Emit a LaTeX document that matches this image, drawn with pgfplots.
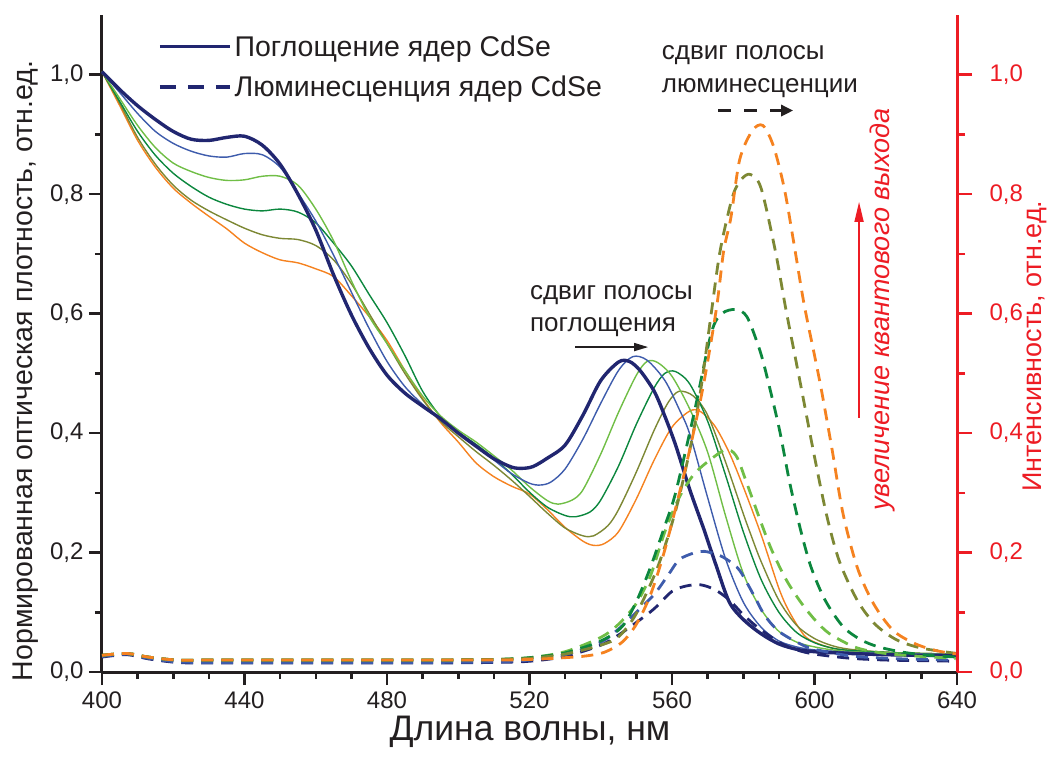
\documentclass[border=0pt]{standalone}
\usepackage{fontspec}
\setmainfont{Liberation Sans}
\usepackage{pgfplots}
\pgfplotsset{compat=1.18}
\usetikzlibrary{arrows.meta}

\definecolor{cnavy}{RGB}{33,38,112}
\definecolor{croyal}{RGB}{62,92,172}
\definecolor{clgreen}{RGB}{112,190,70}
\definecolor{cdgreen}{RGB}{12,135,62}
\definecolor{colive}{RGB}{125,136,52}
\definecolor{corange}{RGB}{245,130,32}
\definecolor{cred}{RGB}{237,28,36}
\definecolor{ctext}{RGB}{35,31,32}

\pgfplotsset{
  absthin/.style={line width=1.4pt, smooth, no markers},
  lum/.style={line width=2.8pt, dash pattern=on 12pt off 8pt, smooth, no markers},
  ynum/.style={/pgf/number format/fixed, /pgf/number format/fixed zerofill,
    /pgf/number format/precision=1, /pgf/number format/use comma},
}

\begin{document}
\begin{tikzpicture}
\begin{axis}[
  name=main,
  scale only axis, width=855pt, height=657pt,
  xmin=400, xmax=640, ymin=0, ymax=1.1,
  axis x line*=bottom, axis y line*=left,
  x axis line style={-, line width=3pt, ctext},
  y axis line style={-, line width=3pt, ctext},
  xtick={400,440,480,520,560,600,640}, minor x tick num=3,
  ytick={0,0.2,0.4,0.6,0.8,1.0}, minor y tick num=1,
  tick align=outside, major tick length=13pt, minor tick length=7pt,
  every tick/.style={line width=2.5pt, ctext},
  /pgf/number format/assume math mode=true,
  tick label style={font=\fontsize{24}{28}\selectfont, ctext},
  xticklabel style={yshift=-6pt, inner ysep=1pt},
  yticklabel style={ynum, xshift=-2pt},
  xlabel={Длина волны, нм},
  xlabel style={font=\fontsize{35.5}{42}\selectfont, ctext, inner ysep=1pt, at={(axis description cs:0.5006,-0.0905)}, anchor=center},
  ylabel={Нормированная оптическая плотность, отн.ед.},
  ylabel style={font=\fontsize{28.5}{34}\selectfont, ctext, at={(axis description cs:-0.0889,0.458)}, anchor=center},
  legend image code/.code={\draw[#1] (0pt,0pt) -- (70pt,0pt);},
  legend style={draw=none, fill=none, at={(axis description cs:0.0655,0.9685)}, anchor=north west,
    font=\fontsize{28.5}{34}\selectfont, text=ctext, row sep=18pt, inner sep=0pt,
    nodes={inner xsep=3pt, inner ysep=0pt}},
  legend cell align=left,
  clip=false,
]
\addlegendimage{cnavy, line width=3pt}
\addlegendentry{Поглощение ядер CdSe}
\addlegendimage{cnavy, line width=3.4pt, dash pattern=on 16pt off 12pt}
\addlegendentry{Люминесценция ядер CdSe}

% поглощение
\addplot[absthin, corange] coordinates {
(400,1.005)(405,0.948)(410,0.890)(415,0.845)(420,0.810)(425,0.785)(430,0.763)(435,0.742)
(440,0.718)(445,0.702)(450,0.690)(455,0.685)(460,0.675)(465,0.662)(470,0.630)(475,0.595)
(480,0.555)(485,0.505)(490,0.458)(495,0.418)(500,0.385)(505,0.350)(510,0.327)(515,0.311)
(520,0.298)(525,0.272)(530,0.242)(535,0.219)(538,0.212)(541,0.215)(545,0.235)(550,0.290)
(555,0.355)(560,0.410)(565,0.437)(568,0.436)(572,0.412)(576,0.368)(580,0.310)(585,0.230)
(590,0.140)(593,0.100)(597,0.062)(600,0.050)(605,0.040)(610,0.036)(620,0.033)(630,0.031)(640,0.030)
};
\addplot[absthin, colive] coordinates {
(400,1.005)(405,0.952)(410,0.895)(415,0.850)(420,0.815)(425,0.790)(430,0.772)(435,0.757)
(440,0.743)(445,0.732)(450,0.726)(455,0.724)(460,0.714)(465,0.690)(470,0.650)(475,0.600)
(480,0.550)(485,0.500)(490,0.456)(495,0.420)(500,0.394)(505,0.369)(510,0.346)(515,0.321)
(520,0.294)(525,0.266)(530,0.241)(535,0.228)(538,0.228)(542,0.245)(545,0.272)(550,0.335)
(555,0.405)(559,0.452)(562,0.470)(566,0.462)(570,0.430)(575,0.352)(580,0.265)(582,0.232)
(585,0.185)(590,0.120)(595,0.078)(600,0.056)(605,0.044)(610,0.038)(620,0.033)(630,0.031)(640,0.030)
};
\addplot[absthin, cdgreen] coordinates {
(400,1.005)(405,0.955)(410,0.905)(415,0.865)(420,0.835)(425,0.813)(430,0.795)(435,0.783)
(440,0.775)(445,0.772)(450,0.775)(455,0.770)(460,0.752)(465,0.718)(470,0.680)(475,0.632)
(480,0.585)(485,0.530)(490,0.470)(495,0.428)(500,0.402)(505,0.381)(510,0.358)(515,0.331)
(520,0.301)(525,0.276)(530,0.262)(533,0.260)(537,0.268)(540,0.288)(545,0.345)(550,0.415)
(555,0.476)(558,0.500)(561,0.503)(565,0.482)(570,0.420)(575,0.330)(580,0.235)(585,0.155)
(590,0.100)(595,0.066)(600,0.049)(605,0.040)(610,0.036)(620,0.033)(630,0.031)(640,0.030)
};
\addplot[absthin, clgreen] coordinates {
(400,1.005)(405,0.960)(410,0.915)(415,0.878)(420,0.852)(425,0.838)(430,0.828)(435,0.823)
(440,0.824)(445,0.830)(450,0.830)(455,0.815)(460,0.775)(465,0.722)(470,0.655)(475,0.595)
(480,0.550)(485,0.505)(490,0.462)(495,0.429)(500,0.405)(505,0.385)(510,0.362)(515,0.338)
(520,0.310)(525,0.287)(528,0.281)(532,0.288)(535,0.305)(540,0.365)(545,0.435)(550,0.497)
(553,0.520)(556,0.518)(560,0.495)(565,0.440)(570,0.368)(575,0.262)(580,0.165)(585,0.105)
(590,0.068)(595,0.050)(600,0.042)(605,0.037)(610,0.034)(620,0.032)(630,0.031)(640,0.030)
};
\addplot[absthin, croyal] coordinates {
(400,1.005)(405,0.970)(410,0.935)(415,0.905)(420,0.885)(425,0.872)(430,0.864)(435,0.862)
(440,0.868)(445,0.866)(450,0.845)(455,0.802)(460,0.755)(465,0.698)(470,0.636)(475,0.575)
(480,0.520)(485,0.478)(490,0.448)(495,0.424)(500,0.400)(505,0.378)(510,0.355)(515,0.332)
(520,0.316)(523,0.313)(526,0.318)(530,0.340)(535,0.390)(540,0.450)(545,0.505)(549,0.528)
(553,0.522)(558,0.488)(562,0.440)(565,0.398)(570,0.292)(575,0.190)(580,0.117)(585,0.075)
(590,0.052)(595,0.042)(600,0.037)(610,0.033)(620,0.031)(630,0.030)(640,0.029)
};
\addplot[cnavy, line width=3.4pt, smooth, no markers] coordinates {
(400,1.005)(405,0.975)(410,0.948)(415,0.925)(420,0.905)(425,0.892)(430,0.890)(435,0.895)
(440,0.897)(445,0.882)(450,0.850)(455,0.800)(460,0.740)(465,0.665)(470,0.598)(475,0.542)
(480,0.497)(485,0.467)(490,0.445)(495,0.424)(500,0.400)(505,0.378)(510,0.357)(515,0.343)
(518,0.341)(521,0.344)(525,0.358)(530,0.380)(535,0.430)(540,0.488)(545,0.519)(548,0.520)
(551,0.505)(555,0.470)(558,0.428)(561,0.380)(565,0.305)(569,0.238)(572,0.185)(576,0.118)
(580,0.088)(585,0.064)(590,0.047)(595,0.038)(600,0.034)(610,0.031)(620,0.029)(630,0.028)(640,0.028)
};

% люминесценция
\addplot[lum, cnavy] coordinates {
(400,0.025)(407,0.029)(413,0.022)(421,0.016)(430,0.015)(460,0.015)(490,0.015)(510,0.016)
(520,0.018)(530,0.026)(540,0.045)(545,0.062)(550,0.083)(555,0.106)(560,0.135)(564,0.144)
(568,0.146)(572,0.138)(576,0.121)(580,0.096)(584,0.075)(590,0.050)(595,0.037)(600,0.030)
(610,0.023)(620,0.020)(630,0.019)(640,0.018)
};
\addplot[lum, croyal] coordinates {
(400,0.026)(407,0.030)(413,0.023)(421,0.017)(430,0.016)(460,0.016)(490,0.016)(510,0.017)
(520,0.020)(530,0.029)(540,0.050)(545,0.072)(550,0.100)(555,0.130)(559,0.163)(562,0.188)
(566,0.199)(569,0.202)(573,0.196)(576,0.186)(579,0.170)(583,0.128)(586,0.095)(590,0.068)
(596,0.047)(600,0.038)(610,0.027)(620,0.023)(630,0.021)(640,0.020)
};
\addplot[lum, clgreen] coordinates {
(400,0.028)(407,0.031)(413,0.025)(421,0.020)(430,0.020)(460,0.020)(490,0.020)(510,0.021)
(520,0.024)(530,0.034)(540,0.058)(545,0.080)(550,0.115)(554,0.162)(558,0.235)(562,0.292)
(566,0.330)(570,0.352)(575,0.372)(578,0.362)(581,0.316)(585,0.250)(588,0.204)(592,0.155)
(596,0.118)(600,0.088)(604,0.065)(610,0.045)(614,0.037)(620,0.031)(630,0.026)(640,0.023)
};
\addplot[lum, cdgreen] coordinates {
(400,0.028)(407,0.031)(413,0.025)(421,0.020)(430,0.020)(460,0.020)(490,0.020)(510,0.021)
(520,0.024)(530,0.032)(540,0.052)(546,0.076)(550,0.118)(554,0.176)(558,0.245)(561,0.300)
(566,0.428)(571,0.567)(574,0.600)(578,0.607)(581,0.595)(584,0.550)(586,0.510)(590,0.410)
(593,0.318)(596,0.240)(599,0.176)(603,0.120)(608,0.076)(613,0.054)(618,0.042)(625,0.033)
(632,0.028)(640,0.025)
};
\addplot[lum, colive] coordinates {
(400,0.028)(407,0.031)(413,0.025)(421,0.020)(430,0.020)(460,0.020)(490,0.020)(510,0.021)
(520,0.023)(530,0.030)(540,0.045)(545,0.059)(550,0.098)(556,0.176)(561,0.270)(565,0.372)
(568,0.470)(571,0.600)(573.5,0.705)(577,0.796)(579.5,0.825)(582,0.833)(585,0.810)(589,0.705)
(592,0.606)(596,0.484)(600,0.360)(603.5,0.260)(607,0.185)(612,0.120)(617,0.080)(623,0.054)
(630,0.040)(640,0.031)
};
\addplot[lum, corange] coordinates {
(400,0.028)(407,0.031)(413,0.025)(421,0.020)(430,0.020)(460,0.020)(490,0.020)(510,0.020)
(520,0.021)(530,0.024)(536,0.027)(541,0.033)(546,0.050)(550,0.080)(554,0.130)(558,0.205)
(563,0.322)(566,0.400)(569,0.486)(572.5,0.610)(574.5,0.705)(576.5,0.760)(579,0.858)(582.5,0.906)
(585.5,0.915)(588.5,0.880)(591.5,0.810)(594,0.725)(597,0.618)(600,0.530)(602,0.470)(605,0.370)
(608,0.265)(612,0.175)(616.5,0.115)(622,0.070)(628,0.048)(634,0.036)(640,0.030)
};

% подписи
\node[anchor=base west, font=\fontsize{26}{30}\selectfont, ctext, inner sep=0pt] at (axis cs:520.1,0.623) {сдвиг полосы};
\node[anchor=base west, font=\fontsize{26}{30}\selectfont, ctext, inner sep=0pt] at (axis cs:520.1,0.570) {поглощения};
\draw[ctext, line width=1.6pt, -{Triangle[length=14pt,width=8pt]}] (axis cs:532.8,0.544) -- (axis cs:553.3,0.544);

\node[anchor=base west, font=\fontsize{26}{30}\selectfont, ctext, inner sep=0pt] at (axis cs:557.1,1.025) {сдвиг полосы};
\node[anchor=base west, font=\fontsize{26}{30}\selectfont, ctext, inner sep=0pt] at (axis cs:557.1,0.970) {люминесценции};
\draw[ctext, line width=3pt, dash pattern=on 13pt off 13pt, -{Triangle[length=12pt,width=11pt]}] (axis cs:573,0.94) -- (axis cs:594,0.94);

\draw[cred, line width=1.6pt, -{Triangle[length=20pt,width=9pt]}] (axis cs:612.5,0.4255) -- (axis cs:612.5,0.787);
\node[rotate=90, font=\itshape\fontsize{27}{32}\selectfont, cred] at (axis cs:619.2,0.607) {увеличение квантового выхода};

\coordinate (bbsw) at (axis description cs:-0.1193,-0.1339);
\coordinate (bbne) at (axis description cs:1.1064,1.0228);
\end{axis}

\begin{axis}[
  scale only axis, width=855pt, height=657pt,
  xmin=400, xmax=640, ymin=0, ymax=1.1,
  hide x axis, axis y line*=right,
  y axis line style={-, line width=3pt, cred},
  ytick={0,0.2,0.4,0.6,0.8,1.0}, minor y tick num=1,
  tick align=outside, major tick length=15pt, minor tick length=8pt,
  every tick/.style={line width=2.5pt, cred},
  /pgf/number format/assume math mode=true,
  yticklabel style={ynum, font=\fontsize{24}{28}\selectfont, cred, xshift=14pt},
  ylabel={Интенсивность, отн.ед.},
  ylabel style={font=\fontsize{27}{32}\selectfont, cred, at={(axis description cs:1.0912,0.496)}, anchor=center},
]
\end{axis}
\pgfresetboundingbox
\path[use as bounding box] (bbsw) rectangle (bbne);
\end{tikzpicture}
\end{document}
